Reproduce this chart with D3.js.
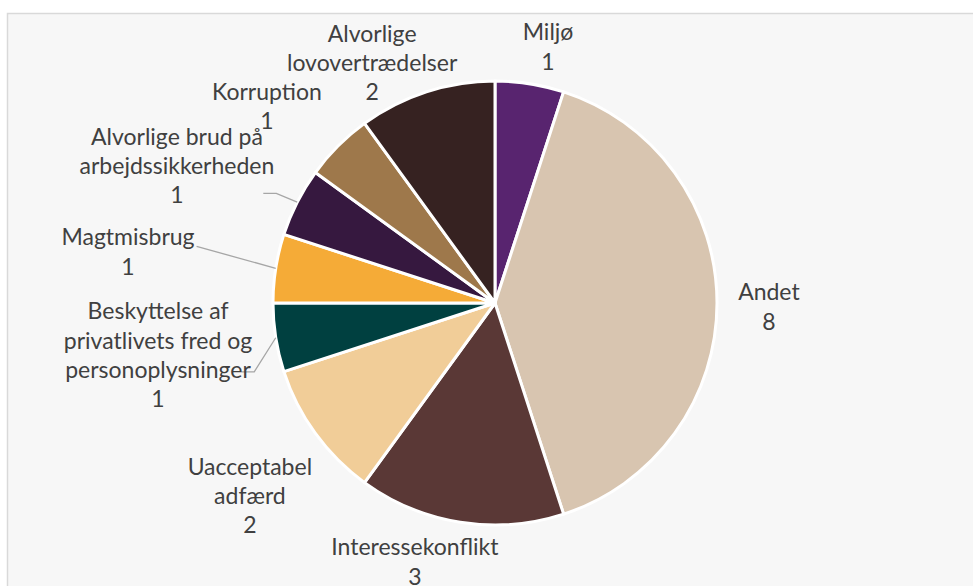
<!DOCTYPE html>
<meta charset="utf-8">
<html>
<head>
  <style>
    body {
      margin: 0;
      background: #ffffff;
    }
    svg {
      display: block;
    }
    .label {
      font-family: Lato, "Open Sans", sans-serif;
      font-size: 23px;
      fill: #404040;
      text-anchor: middle;
    }
    .leader {
      fill: none;
      stroke: #a6a6a6;
      stroke-width: 1.3;
    }
  </style>
</head>
<body>
<svg width="973" height="586"></svg>
<script src="https://d3js.org/d3.v7.min.js"></script>
<script>
  // categories, clockwise from 12 o'clock
  const categories = [
    "Miljø",
    "Andet",
    "Interessekonflikt",
    "Uacceptabel adfærd",
    "Beskyttelse af privatlivets fred og personoplysninger",
    "Magtmisbrug",
    "Alvorlige brud på arbejdssikkerheden",
    "Korruption",
    "Alvorlige lovovertrædelser"
  ];
  const values = [1, 8, 3, 2, 1, 1, 1, 1, 2];
  const colors = ["#58246f", "#d8c5b0", "#5a3836", "#f1cd98", "#004040",
                  "#f5ab37", "#36183f", "#9e784b", "#362221"];
  // how each label wraps, as Excel shows it
  const labelLines = [
    ["Miljø"],
    ["Andet"],
    ["Interessekonflikt"],
    ["Uacceptabel", "adfærd"],
    ["Beskyttelse af", "privatlivets fred og", "personoplysninger"],
    ["Magtmisbrug"],
    ["Alvorlige brud på", "arbejdssikkerheden"],
    ["Korruption"],
    ["Alvorlige", "lovovertrædelser"]
  ];

  // label layout: polar position of label block centre (deg, factor of radius)
  const labelPos = [
    [11.7, 1.178], [90.8, 1.234], [197.2, 1.221], [231.8, 1.405], [261.2, 1.536],
    [277.9, 1.669], [293.3, 1.560], [310.8, 1.357], [332.9, 1.215]
  ];
  // leader lines: [line index, y offset, length of flat part] or null
  const leaders = [null, null, null, null, [2, 2, 13], [0, 9, 0], [2, -2, 13], null, null];

  const width = 973, height = 586;
  const cx = 495, cy = 303, r = 222;
  const lineH = 29.3;

  const svg = d3.select("svg");

  // plot area frame
  svg.append("rect")
    .attr("x", 7.5).attr("y", 13.5)
    .attr("width", width).attr("height", height)
    .attr("fill", "#f7f7f7")
    .attr("stroke", "#d9d9d9")
    .attr("stroke-width", 1.5);

  const data = categories.map((c, i) => ({ name: c, value: values[i], color: colors[i], lines: labelLines[i] }));

  const pie = d3.pie().sort(null).value(d => d.value);
  const arcs = pie(data);
  const arc = d3.arc().innerRadius(0).outerRadius(r);

  const g = svg.append("g").attr("transform", `translate(${cx},${cy})`);

  g.selectAll("path.slice")
    .data(arcs)
    .enter().append("path")
    .attr("class", "slice")
    .attr("d", arc)
    .attr("fill", d => d.data.color)
    .attr("stroke", "#ffffff")
    .attr("stroke-width", 3)
    .attr("stroke-linejoin", "round");

  const labels = g.selectAll("text.label")
    .data(arcs)
    .enter().append("text")
    .attr("class", "label")
    .each(function(d, i) {
      const [deg, f] = labelPos[i];
      const [x, y] = d3.pointRadial(deg * Math.PI / 180, r * f);
      const lines = d.data.lines.concat([String(d.data.value)]);
      const top = y - (lines.length - 1) * lineH / 2;
      d.lx = x; d.ly = top;
      d3.select(this).selectAll("tspan")
        .data(lines)
        .enter().append("tspan")
        .attr("x", x)
        .attr("y", (t, j) => top + j * lineH)
        .attr("dy", "0.35em")
        .text(t => t);
    });

  // leader lines
  labels.each(function(d, i) {
    const ld = leaders[i];
    if (!ld) return;
    const box = this.getBBox();
    const yl = d.ly + ld[0] * lineH + ld[1];
    const mid = (d.startAngle + d.endAngle) / 2;
    const [ax, ay] = d3.pointRadial(mid, r);
    const elbow = box.x + box.width + 2;
    g.insert("polyline", "text")
      .attr("class", "leader")
      .attr("points", [[elbow - ld[2], yl], [elbow, yl], [ax, ay]].map(p => p.join(",")).join(" "));
  });
</script>
</body>
</html>
